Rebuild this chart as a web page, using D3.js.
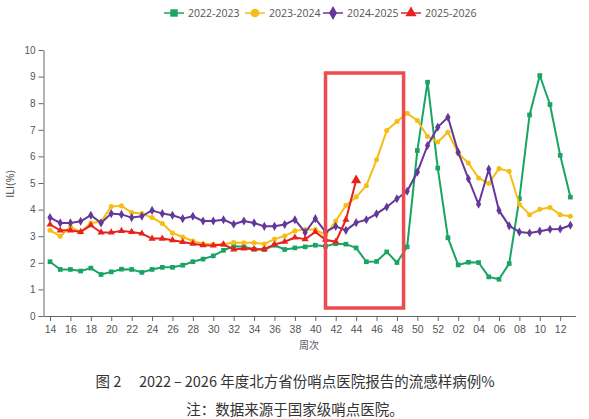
<!DOCTYPE html>
<html><head><meta charset="utf-8">
<script src="https://cdn.jsdelivr.net/npm/d3@7"></script>
<style>
html,body{margin:0;padding:0;background:#fff;}
svg{display:block;font-family:"Open Sans","Noto Sans CJK SC",sans-serif;}
</style></head>
<body>
<svg id="c" width="589" height="419"></svg>
<script>
const weekLabels = [14,15,16,17,18,19,20,21,22,23,24,25,26,27,28,29,30,31,32,33,34,35,36,37,38,39,40,41,42,43,44,45,46,47,48,49,50,51,52,1,2,3,4,5,6,7,8,9,10,11,12,13];
const seriesNames = ["2022-2023","2023-2024","2024-2025","2025-2026"];
const s2022 = [2.04,1.75,1.75,1.69,1.80,1.56,1.66,1.76,1.75,1.64,1.75,1.83,1.83,1.91,2.04,2.14,2.26,2.47,2.62,2.60,2.51,2.50,2.66,2.50,2.56,2.60,2.66,2.62,2.72,2.70,2.56,2.04,2.05,2.41,2.01,2.60,6.22,8.79,5.56,2.94,1.92,2.02,2.01,1.47,1.38,1.97,4.41,7.56,9.04,7.95,6.04,4.47];
const s2023 = [3.22,3.00,3.35,3.16,3.50,3.54,4.12,4.14,3.89,3.85,3.70,3.48,3.12,2.97,2.82,2.72,2.69,2.70,2.76,2.75,2.75,2.71,2.89,3.01,3.20,3.25,3.25,3.04,3.57,4.16,4.47,4.90,5.87,6.97,7.31,7.62,7.35,6.75,6.54,6.91,6.12,5.75,5.19,4.98,5.54,5.44,4.20,3.81,4.01,4.08,3.81,3.75];
const s2024 = [3.70,3.50,3.50,3.56,3.79,3.50,3.85,3.82,3.70,3.75,3.97,3.85,3.79,3.66,3.75,3.57,3.57,3.62,3.45,3.57,3.50,3.37,3.37,3.44,3.62,3.14,3.66,3.16,3.37,3.22,3.51,3.62,3.84,4.10,4.41,4.69,5.41,6.41,7.10,7.47,6.16,5.16,4.20,5.52,3.97,3.39,3.16,3.12,3.19,3.26,3.27,3.41];
const s2025 = [3.44,3.22,3.22,3.16,3.41,3.14,3.14,3.20,3.16,3.10,2.91,2.91,2.85,2.78,2.72,2.66,2.65,2.69,2.50,2.54,2.51,2.51,2.69,2.79,2.95,2.89,3.16,2.87,2.79,3.62,5.10];
const yTicks = [0,1,2,3,4,5,6,7,8,9,10];
const highlightWeeks = [41.5, 48.5]; // highlighted week span (box), as week-index bounds approx
const titleText = "图 2\u2003 2022\u2009\u2013\u20092026 年度北方省份哨点医院报告的流感样病例%";
const noteText = "注：数据来源于国家级哨点医院。";

const colors = ["#19a463","#f6bd16","#64379a","#e8211c"];
const symbols = [d3.symbolSquare, d3.symbolCircle, d3.symbolDiamond, d3.symbolTriangle];
const symSizes = [22, 20, 24, 22];
const allSeries = [s2022, s2023, s2024, s2025];

const svg = d3.select("#c");
const x = d3.scaleLinear().domain([-0.64, 51.5]).range([43.5, 575.5]);
const y = d3.scaleLinear().domain([0, 10]).range([316, 50]);

// axes
const xIdx = d3.range(0, weekLabels.length, 2);
const xAxis = d3.axisBottom(x).tickValues(xIdx)
  .tickFormat(i => String(weekLabels[i]).padStart(2, "0"))
  .tickSize(5).tickSizeOuter(0);
const gx = svg.append("g").attr("transform", "translate(0,316)").call(xAxis);
gx.selectAll("path,line").attr("stroke", "#666");
gx.selectAll("text").attr("fill", "#555").attr("font-size", 10.5).attr("dy", "0.9em");

const yAxis = d3.axisLeft(y).tickValues(yTicks).tickSize(5).tickSizeOuter(0);
const gy = svg.append("g").attr("transform", "translate(43.5,0)").call(yAxis);
gy.selectAll("path,line").attr("stroke", "#666");
gy.selectAll("text").attr("fill", "#555").attr("font-size", 10).attr("x", -8);

// axis titles
svg.append("text").attr("transform", "translate(14,184) rotate(-90)")
  .attr("text-anchor", "middle").attr("font-size", 11).attr("fill", "#444").text("ILI(%)");
svg.append("text").attr("x", 309).attr("y", 349).attr("text-anchor", "middle")
  .attr("font-size", 10).attr("fill", "#555").attr("font-family", "'Noto Sans CJK SC'").text("周次");

// lines & markers
const line = d3.line().x((d, i) => x(i)).y(d => y(d));
allSeries.forEach((s, k) => {
  const g = svg.append("g");
  g.append("path").datum(s).attr("d", line).attr("fill", "none")
    .attr("stroke", colors[k]).attr("stroke-width", 2).attr("stroke-linejoin", "round");
  g.selectAll("path.m").data(s).join("path").attr("class", "m")
    .attr("transform", (d, i) => `translate(${x(i)},${y(d)})`)
    .attr("d", d3.symbol().type(symbols[k]).size(k === 3 && false ? 40 : symSizes[k]))
    .attr("fill", colors[k]);
});
// enlarge last red marker
svg.append("path")
  .attr("transform", `translate(${x(s2025.length - 1)},${y(s2025[s2025.length - 1])})`)
  .attr("d", d3.symbol().type(d3.symbolTriangle).size(45)).attr("fill", colors[3]);

// highlight box
svg.append("rect")
  .attr("x", x(27.0)).attr("y", 73)
  .attr("width", x(34.65) - x(27.0)).attr("height", 308 - 73)
  .attr("fill", "none").attr("stroke", "#ef4a4f").attr("stroke-width", 3.5);

// legend
const legX = [174, 255, 333, 411];
const lg = svg.append("g");
seriesNames.forEach((n, k) => {
  const g = lg.append("g").attr("transform", `translate(${legX[k]},13)`);
  g.append("line").attr("x1", -10).attr("x2", 10).attr("stroke", colors[k]).attr("stroke-width", 1.5);
  g.append("path").attr("d", d3.symbol().type(symbols[k]).size(k === 1 ? 60 : 55)).attr("fill", colors[k]);
  g.append("text").attr("x", 14).attr("dy", "0.35em").attr("font-size", 10.5).attr("fill", "#555").text(n);
});

// caption
svg.append("text").attr("x", 295).attr("y", 387).attr("text-anchor", "middle")
  .attr("font-size", 14.5).attr("fill", "#333").attr("font-family", "'Noto Sans CJK SC'").text(titleText);
svg.append("text").attr("x", 295).attr("y", 415).attr("text-anchor", "middle")
  .attr("font-size", 14.5).attr("fill", "#333").attr("font-family", "'Noto Sans CJK SC'").text(noteText);
</script>
</body></html>
